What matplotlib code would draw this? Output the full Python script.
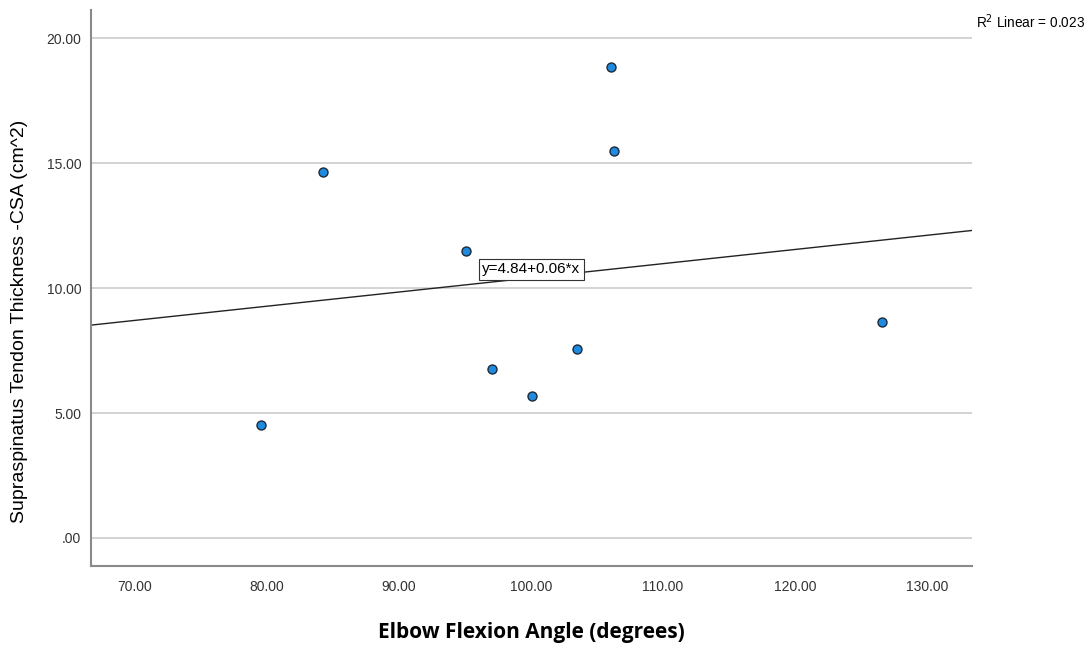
import matplotlib
matplotlib.use("Agg")
import matplotlib.pyplot as plt
import numpy as np

# data
elbow_angle = [79.55, 84.27, 95.08, 97.07, 100.1, 103.46, 106.06, 106.29, 126.6]
tendon_csa = [4.52, 14.64, 11.49, 6.75, 5.68, 7.55, 18.83, 15.48, 8.64]

x_ticks = [70, 80, 90, 100, 110, 120, 130]
y_ticks = [0, 5, 10, 15, 20]
fit_label = "y=4.84+0.06*x"
r2_label = "R$^2$ Linear = 0.023"

plt.rcParams['font.family'] = ['Liberation Sans', 'DejaVu Sans']

fig = plt.figure(figsize=(10.89, 6.47), dpi=100)
ax = fig.add_axes([0.0836, 0.1252, 0.809, 0.8593])

xlim = (66.67, 133.4)
ax.set_xlim(xlim)
ax.set_ylim(-1.12, 21.12)

# gridlines
for yt in y_ticks:
    ax.axhline(yt, color="#c8c8c8", linewidth=1.1, zorder=1)

# linear fit
slope, intercept = np.polyfit(elbow_angle, tendon_csa, 1)
xs = np.array(xlim)
ax.plot(xs, intercept + slope*xs, color="#222222", linewidth=1.0, zorder=2)

ax.scatter(elbow_angle, tendon_csa, s=42, color="#1f8be0", edgecolor="#1c2a3a",
           linewidth=1.0, zorder=3)

ax.text(96.3, 10.75, fit_label, fontsize=11, ha="left", va="center", zorder=4,
        bbox=dict(boxstyle="square,pad=0.22", facecolor="white", edgecolor="#333333", linewidth=0.8))

fig.text(0.8963, 0.966, r2_label, fontsize=9.8, ha="left", va="center")

ax.set_xticks(x_ticks)
ax.set_xticklabels(["%.2f" % v for v in x_ticks])
ax.set_yticks(y_ticks)
ax.set_yticklabels([".00"] + ["%.2f" % v for v in y_ticks[1:]])
ax.tick_params(axis="both", length=0, labelsize=10, colors="#333333")
ax.tick_params(axis="x", pad=10)
ax.tick_params(axis="y", pad=7)

for side in ["top", "right"]:
    ax.spines[side].set_visible(False)
for side in ["left", "bottom"]:
    ax.spines[side].set_color("#8a8a8a")
    ax.spines[side].set_linewidth(1.5)

ax.set_xlabel("Elbow Flexion Angle (degrees)", fontsize=15, fontweight="bold",
              family=["Open Sans", "DejaVu Sans"], va="center")
ax.xaxis.set_label_coords(0.5, -0.119)
ax.set_ylabel("Supraspinatus Tendon Thickness -CSA (cm^2)", fontsize=14, va="center")
ax.yaxis.set_label_coords(-0.081, 0.44)

fig.savefig("out.png", dpi=100)
